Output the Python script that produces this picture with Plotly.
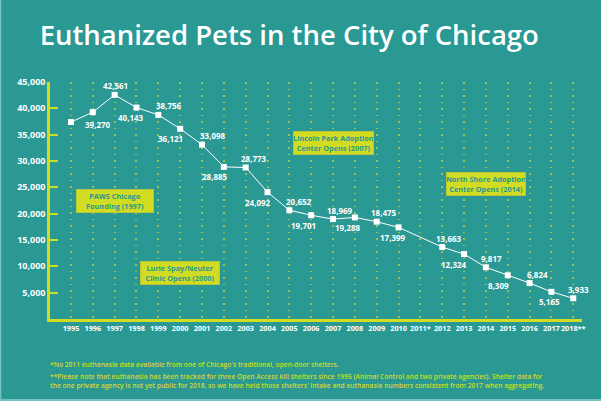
import plotly.graph_objects as go

# ---------------- data ----------------
years = list(range(1995, 2019))
tick_labels = ["1995", "1996", "1997", "1998", "1999", "2000", "2001", "2002",
               "2003", "2004", "2005", "2006", "2007", "2008", "2009", "2010",
               "2011*", "2012", "2013", "2014", "2015", "2016", "2017", "2018**"]
euthanized = [37400, 39270, 42561, 40143, 38756, 36121, 33098, 28885,
              28773, 24092, 20652, 19701, 18969, 19288, 18475, 17399,
              None, 13663, 12324, 9817, 8309, 6824, 5165, 3933]
y_ticks = [5000, 10000, 15000, 20000, 25000, 30000, 35000, 40000, 45000]

events = ["PAWS Chicago<br>Founding (1997)",
          "Lurie Spay/Neuter<br>Clinic Opens (2000)",
          "Lincoln Park Adoption<br>Center Opens (2007)",
          "North Shore Adoption<br>Center Opens (2014)"]
event_years = [1997, 2000, 2007, 2014]

footnote1 = "*No 2011 euthanasia data available from one of Chicago's traditional, open-door shelters."
footnote2 = ("**Please note that euthanasia has been tracked for three Open Access kill shelters since 1995 "
             "(Animal Control and two private agencies). Shelter data for<br>the one private agency is not yet "
             "public for 2018, so we have held those shelters' intake and euthanasia numbers consistent from 2017 when aggregating.")

# ---------------- style ----------------
BG = "#2a9893"
YEL = "#d2dc22"
RIM = "#79c1bd"
FONT = "Open Sans"

# label placement (style): side and horizontal offsets in px
label_side = [None, "below", "above", "below", "above", "below", "above", "below",
              "above", "below", "above", "below", "above", "below", "above", "below",
              None, "above", "below", "above", "below", "above", "below", "above"]
label_dx = [0, 5, 1, -5, 11, -10, 11, -9, 8, -10, 10, -8, 7, -7, 7, -6,
            0, 7, -10, 6, -9, 8, -2, 5]
event_box_y = [22400, 8800, 33500, 25650]
event_box_w = [76, 78, 79, 78]

fig = go.Figure()
fig.add_trace(go.Scatter(
    x=years, y=euthanized, mode="lines+markers", connectgaps=True,
    line=dict(color="white", width=1),
    marker=dict(symbol="square", size=6, color="white"),
    hoverinfo="skip", showlegend=False,
))

annotations = []
for yr, v, side, dx in zip(years, euthanized, label_side, label_dx):
    if v is None or side is None:
        continue
    annotations.append(dict(
        x=yr, y=v, text=f"{v:,}", showarrow=False,
        xshift=dx, yshift=9 if side == "above" else (-12 if yr == 1996 else -10),
        font=dict(family=FONT, size=8, color="white", weight="bold"),
    ))

for txt, yr, yb, w in zip(events, event_years, event_box_y, event_box_w):
    annotations.append(dict(
        x=yr, y=yb, text=txt, showarrow=False,
        bgcolor=YEL, bordercolor="#b9c43a", borderwidth=1, borderpad=0,
        width=w, height=22,
        font=dict(family=FONT, size=7.3, color=BG, weight="bold"),
    ))

annotations.append(dict(
    xref="paper", yref="paper", x=-0.003, y=-0.193, xanchor="left", yanchor="middle",
    text=footnote1, showarrow=False, align="left",
    font=dict(family=FONT, size=6.7, color=YEL, weight=600),
))
annotations.append(dict(
    xref="paper", yref="paper", x=-0.003, y=-0.262, xanchor="left", yanchor="middle",
    text=footnote2, showarrow=False, align="left",
    font=dict(family=FONT, size=6.7, color=YEL, weight=600),
))

fig.update_layout(
    width=601, height=401,
    paper_bgcolor=BG, plot_bgcolor=BG,
    margin=dict(l=50, r=19, t=82, b=82),
    title=dict(text="Euthanized Pets in the City of Chicago",
               font=dict(family=FONT, size=27.5, color="white", weight=600),
               xref="container", yref="container", x=0.066, xanchor="left",
               y=0.911, yanchor="middle"),
    annotations=annotations,
    shapes=[
        dict(type="line", xref="paper", yref="paper", x0=-49.5/532, x1=-49.5/532,
             y0=-82/237, y1=1 + 82/237, line=dict(color=RIM, width=1.5)),
        dict(type="line", xref="paper", yref="paper", x0=-50/532, x1=1 + 19/532,
             y0=-81/237, y1=-81/237, line=dict(color=RIM, width=2)),
    ],
    xaxis=dict(range=[1994.04, 2018.4], tickvals=years, ticktext=tick_labels,
               tickangle=0, automargin=False,
               showgrid=True, gridcolor="rgba(190,205,60,0.75)", gridwidth=1.5,
               griddash="1.5px,5px",
               showline=True, linecolor=YEL, linewidth=2.5,
               ticks="", zeroline=False,
               tickfont=dict(family=FONT, size=7.3, color="white", weight="bold")),
    yaxis=dict(range=[0, 45000], tickvals=y_ticks, tickformat=",",
               automargin=False,
               showgrid=False, zeroline=False,
               showline=True, linecolor=YEL, linewidth=2.5,
               ticks="inside", ticklen=8, tickwidth=2, tickcolor=YEL,
               tickfont=dict(family=FONT, size=9, color="white", weight="bold")),
)

fig.write_html("out.html",
               config={"displayModeBar": False},
               post_script="document.body.style.margin='0';document.body.style.overflow='hidden';")
